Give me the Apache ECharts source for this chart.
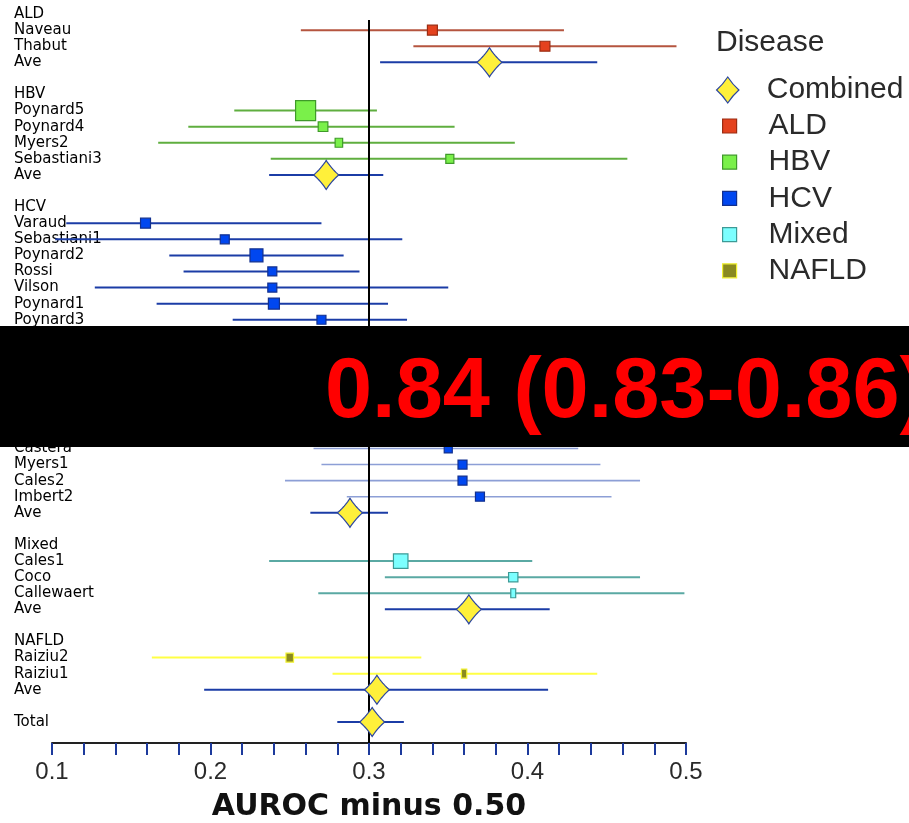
<!DOCTYPE html>
<html>
<head>
<meta charset="utf-8">
<script src="https://cdn.jsdelivr.net/npm/echarts@6/dist/echarts.min.js"></script>
<style>
  html, body { margin: 0; padding: 0; background: #ffffff; }
  #chart { width: 909px; height: 823px; }
</style>
</head>
<body>
<div id="chart"></div>
<script>
// AUROC minus 0.50 for each study: point estimate, lower and upper limits, study weight.
// Each "Ave" array is [estimate, lower, upper] of the pooled value of its group.
const aldStudies = ['Naveau', 'Thabut'];
const aldEst    = [0.340, 0.411];
const aldLow    = [0.257, 0.328];
const aldHigh   = [0.423, 0.494];
const aldWeight = [4.9, 4.9];
const aldAve    = [0.376, 0.307, 0.444];

const hbvStudies = ['Poynard5', 'Poynard4', 'Myers2', 'Sebastiani3'];
const hbvEst    = [0.260, 0.271, 0.281, 0.351];
const hbvLow    = [0.215, 0.186, 0.167, 0.238];
const hbvHigh   = [0.305, 0.354, 0.392, 0.463];
const hbvWeight = [19.8, 4.6, 2.8, 3.2];
const hbvAve    = [0.273, 0.237, 0.309];

// seven HCV rows sit behind the summary banner; their values are not shown
const hcvStudies = ['Varaud', 'Sebastiani1', 'Poynard2', 'Rossi', 'Vilson', 'Poynard1', 'Poynard3',
  '', '', '', '', '', '', '',
  'Castera', 'Myers1', 'Cales2', 'Imbert2'];
const hcvEst    = [0.159, 0.209, 0.229, 0.239, 0.239, 0.240, 0.270,
  null, null, null, null, null, null, null,
  0.350, 0.359, 0.359, 0.370];
const hcvLow    = [0.109, 0.102, 0.174, 0.183, 0.127, 0.166, 0.214,
  null, null, null, null, null, null, null,
  0.265, 0.270, 0.247, 0.286];
const hcvHigh   = [0.270, 0.321, 0.284, 0.294, 0.350, 0.312, 0.324,
  null, null, null, null, null, null, null,
  0.432, 0.446, 0.471, 0.453];
const hcvWeight = [4.9, 4.0, 8.3, 4.0, 4.0, 6.0, 4.0,
  null, null, null, null, null, null, null,
  3.2, 4.0, 4.0, 4.0];
const hcvAve    = [0.288, 0.263, 0.312];

const mixedStudies = ['Cales1', 'Coco', 'Callewaert'];
const mixedEst    = [0.320, 0.391, 0.391];
const mixedLow    = [0.237, 0.310, 0.268];
const mixedHigh   = [0.403, 0.471, 0.499];
const mixedWeight = [10.4, 4.3, 1.2];
const mixedAve    = [0.363, 0.310, 0.414];

const nafldStudies = ['Raiziu2', 'Raiziu1'];
const nafldEst    = [0.250, 0.360];
const nafldLow    = [0.163, 0.277];
const nafldHigh   = [0.333, 0.444];
const nafldWeight = [2.8, 1.4];
const nafldAve    = [0.305, 0.196, 0.413];

const totalAve = [0.302, 0.280, 0.322];
const referenceValue = 0.3;

const xTicks = [0.1, 0.2, 0.3, 0.4, 0.5];
const bannerText = '0.84 (0.83-0.86)';

// ---- styles -------------------------------------------------------------
const groupStyles = {
  ALD:   { line: '#b5553f', fill: '#e4421e', border: '#9b2c12' },
  HBV:   { line: '#5fae3f', fill: '#7af04a', border: '#3f9a2a' },
  HCV:   { line: '#1b3ca6', fill: '#0047f0', border: '#12308f' },
  Mixed: { line: '#5aa9a3', fill: '#7cffff', border: '#3d9a96' },
  NAFLD: { line: '#ffff44', fill: '#8a8a20', border: '#f0f030' }
};
const fadedStudies = ['Castera', 'Myers1', 'Cales2', 'Imbert2'];
const fadedLine = '#8d9fd6';
const combinedStyle = { line: '#1b3ca6', fill: '#fff03a', border: '#2b45a0' };
const boxScale = 4.5;      // px per sqrt(weight)
const minBoxHeight = 9;
const axisOffset = 13;

// ---- rows ---------------------------------------------------------------
const groups = [
  { name: 'ALD',   studies: aldStudies,   est: aldEst,   low: aldLow,   high: aldHigh,   weight: aldWeight,   ave: aldAve },
  { name: 'HBV',   studies: hbvStudies,   est: hbvEst,   low: hbvLow,   high: hbvHigh,   weight: hbvWeight,   ave: hbvAve },
  { name: 'HCV',   studies: hcvStudies,   est: hcvEst,   low: hcvLow,   high: hcvHigh,   weight: hcvWeight,   ave: hcvAve },
  { name: 'Mixed', studies: mixedStudies, est: mixedEst, low: mixedLow, high: mixedHigh, weight: mixedWeight, ave: mixedAve },
  { name: 'NAFLD', studies: nafldStudies, est: nafldEst, low: nafldLow, high: nafldHigh, weight: nafldWeight, ave: nafldAve }
];

const rowLabels = [];
const combinedData = [];
const studySeries = [];

groups.forEach(function (g) {
  rowLabels.push(g.name);
  const data = [];
  const names = [];
  g.studies.forEach(function (s, i) {
    const row = rowLabels.length;
    rowLabels.push(s);
    if (g.est[i] == null) return;
    data.push([g.est[i], g.low[i], g.high[i], row, g.weight[i]]);
    names.push(s);
  });
  combinedData.push([g.ave[0], g.ave[1], g.ave[2], rowLabels.length]);
  rowLabels.push('Ave');
  rowLabels.push('');
  studySeries.push({ group: g.name, data: data, names: names });
});
combinedData.push([totalAve[0], totalAve[1], totalAve[2], rowLabels.length]);
rowLabels.push('Total');

const rowKeys = rowLabels.map(function (_, i) { return String(i); });

// ---- renderers ----------------------------------------------------------
function studyRenderer(styleDef, names) {
  return function (params, api) {
    const est = api.value(0), lo = api.value(1), hi = api.value(2), row = api.value(3), w = api.value(4);
    const a = api.coord([lo, row]);
    const b = api.coord([hi, row]);
    const c = api.coord([est, row]);
    const faded = fadedStudies.indexOf(names[params.dataIndex]) >= 0;
    const bw = boxScale * Math.sqrt(w);
    const bh = Math.max(bw, minBoxHeight);
    return {
      type: 'group',
      children: [
        {
          type: 'line', z2: 1,
          shape: { x1: a[0], y1: a[1], x2: b[0], y2: b[1] },
          style: { stroke: faded ? fadedLine : styleDef.line, lineWidth: faded ? 1.6 : 2 }
        },
        {
          type: 'rect', z2: 10,
          shape: { x: c[0] - bw / 2, y: c[1] - bh / 2, width: bw, height: bh },
          style: { fill: styleDef.fill, stroke: styleDef.border, lineWidth: 1.2 }
        }
      ]
    };
  };
}

function diamondPoints(cx, cy, hw, hh, bow) {
  const tips = [[0, -hh], [hw, 0], [0, hh], [-hw, 0]];
  const pts = [];
  for (let k = 0; k < 4; k++) {
    const p0 = tips[k], p1 = tips[(k + 1) % 4];
    const q = [(p0[0] + p1[0]) / 2 * bow, (p0[1] + p1[1]) / 2 * bow];
    for (let s = 0; s < 10; s++) {
      const t = s / 10, u = 1 - t;
      pts.push([
        cx + u * u * p0[0] + 2 * u * t * q[0] + t * t * p1[0],
        cy + u * u * p0[1] + 2 * u * t * q[1] + t * t * p1[1]
      ]);
    }
  }
  return pts;
}

function combinedRenderer(params, api) {
  const est = api.value(0), lo = api.value(1), hi = api.value(2), row = api.value(3);
  const a = api.coord([lo, row]);
  const b = api.coord([hi, row]);
  const c = api.coord([est, row]);
  return {
    type: 'group',
    children: [
      {
        type: 'line', z2: 1,
        shape: { x1: a[0], y1: a[1], x2: b[0], y2: b[1] },
        style: { stroke: combinedStyle.line, lineWidth: 2 }
      },
      {
        type: 'polygon', z2: 10,
        shape: { points: diamondPoints(c[0], c[1], 12.5, 14.5, 0.86) },
        style: { fill: combinedStyle.fill, stroke: combinedStyle.border, lineWidth: 1.2 }
      }
    ]
  };
}

function referenceRenderer(params, api) {
  const top = api.coord([api.value(0), api.value(1)]);
  const bottom = params.coordSys.y + params.coordSys.height + axisOffset;
  return {
    type: 'line', z2: 5,
    shape: { x1: top[0], y1: top[1] + 6, x2: top[0], y2: bottom },
    style: { stroke: '#000000', lineWidth: 2 }
  };
}

const diamondIcon = 'path://M0,-14 Q5.2,-6 12,0 Q5.2,6 0,14 Q-5.2,6 -12,0 Q-5.2,-6 0,-14 Z';

const series = [
  {
    name: 'reference', type: 'custom', z: 2, silent: true,
    data: [[referenceValue, 0]],
    encode: { x: 0, y: 1 },
    renderItem: referenceRenderer
  }
];
studySeries.forEach(function (s) {
  series.push({
    name: s.group, type: 'custom', z: 2,
    itemStyle: { color: groupStyles[s.group].fill },
    data: s.data,
    encode: { x: [0, 1, 2], y: 3 },
    renderItem: studyRenderer(groupStyles[s.group], s.names)
  });
});
series.push({
  name: 'Combined', type: 'custom', z: 2,
  itemStyle: { color: combinedStyle.fill },
  data: combinedData,
  encode: { x: [0, 1, 2], y: 3 },
  renderItem: combinedRenderer
});

const legendText = { fontFamily: 'Liberation Sans', fontSize: 30, lineHeight: 30, color: '#2a2a2a' };

const option = {
  animation: false,
  backgroundColor: '#ffffff',
  title: {
    text: 'Disease', left: 716, top: 28, padding: 0,
    textStyle: { fontFamily: 'Liberation Sans', fontSize: 30, fontWeight: 'normal', color: '#2a2a2a' }
  },
  legend: [
    {
      orient: 'vertical', left: 716, top: 75, padding: 0,
      itemWidth: 26, itemHeight: 26, selectedMode: true,
      data: [{ name: 'Combined', icon: diamondIcon,
        itemStyle: { color: combinedStyle.fill, borderColor: combinedStyle.border, borderWidth: 1.2 } }],
      textStyle: Object.assign({ padding: [0, 0, 0, 21] }, legendText)
    },
    {
      orient: 'vertical', left: 722, top: 111, padding: 0,
      itemWidth: 14, itemHeight: 14, itemGap: 6.2,
      data: groups.map(function (g) {
        return { name: g.name, icon: 'rect',
          itemStyle: { color: groupStyles[g.name].fill, borderColor: groupStyles[g.name].border, borderWidth: 1.2 } };
      }),
      textStyle: Object.assign({ padding: [0, 0, 0, 27] }, legendText)
    }
  ],
  grid: { left: 52, right: 223, top: 6, height: 724, outerBoundsMode: 'none' },
  xAxis: {
    type: 'value',
    min: xTicks[0], max: xTicks[xTicks.length - 1], interval: xTicks[1] - xTicks[0],
    offset: axisOffset,
    axisLine: { show: true, onZero: false, lineStyle: { color: '#222222', width: 2 } },
    axisTick: { show: true, length: 12, lineStyle: { color: '#1d3a9c', width: 2 } },
    minorTick: { show: true, splitNumber: 5, length: 12, lineStyle: { color: '#1d3a9c', width: 2 } },
    splitLine: { show: false },
    axisLabel: {
      margin: 17, fontFamily: 'Liberation Sans', fontSize: 24, color: '#2a2a2a',
      formatter: function (v) { return v.toFixed(1); }
    },
    name: 'AUROC minus 0.50', nameLocation: 'middle', nameGap: 49,
    nameTextStyle: { fontFamily: 'DejaVu Sans', fontSize: 30, fontWeight: 'bold', color: '#111111' }
  },
  yAxis: {
    type: 'category', inverse: true, data: rowKeys,
    axisLine: { show: false }, axisTick: { show: false }, splitLine: { show: false },
    axisLabel: {
      interval: 0, align: 'left', margin: 38,
      fontFamily: 'DejaVu Sans', fontSize: 15, color: '#000000',
      formatter: function (v, i) { return rowLabels[i]; }
    }
  },
  series: series,
  graphic: [
    {
      type: 'rect', z: 100, silent: true,
      shape: { x: 0, y: 326, width: 909, height: 121 },
      style: { fill: '#000000' }
    },
    {
      type: 'text', z: 101, silent: true,
      x: 325, y: 393, scaleX: 0.985,
      style: {
        text: bannerText, fill: '#ff0000',
        font: 'bold 86px "Liberation Sans"',
        verticalAlign: 'middle'
      }
    }
  ]
};

const chart = echarts.init(document.getElementById('chart'));
chart.setOption(option);
</script>
</body>
</html>
